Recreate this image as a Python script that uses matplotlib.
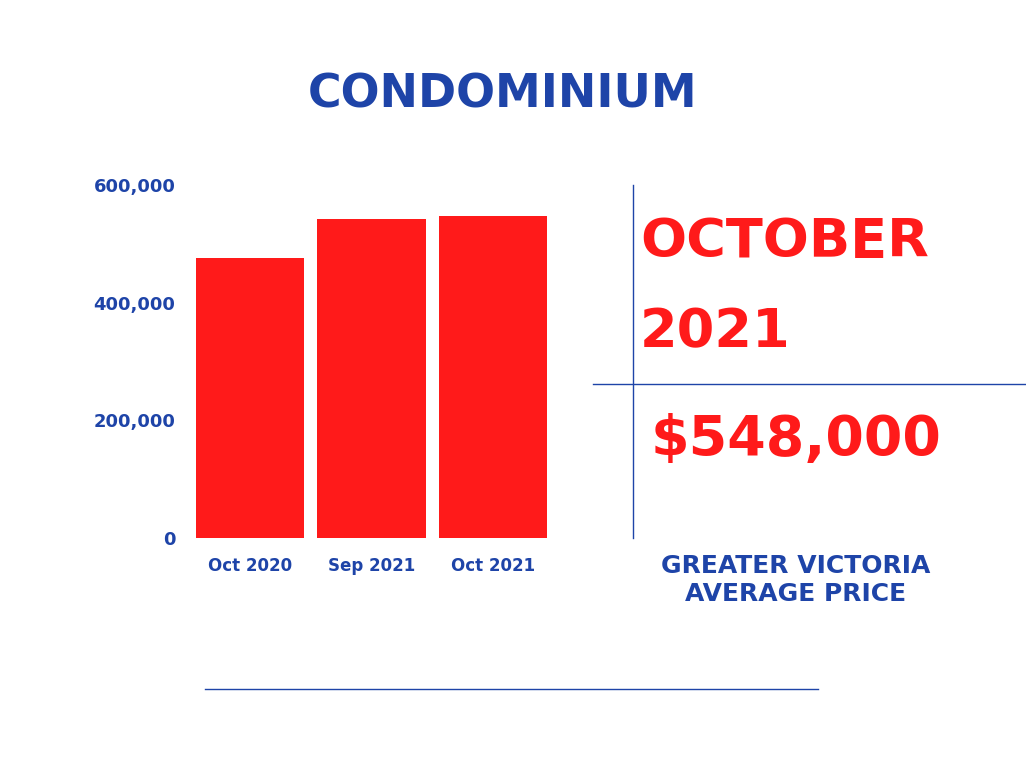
import matplotlib
matplotlib.use("Agg")
import matplotlib.pyplot as plt
from matplotlib.patches import FancyBboxPatch

plt.rcParams['font.family'] = ['DejaVu Sans']

categories = ["Oct 2020", "Sep 2021", "Oct 2021"]
values = [476000, 542000, 548000]
yticks = [0, 200000, 400000, 600000]
ytick_labels = ["0", "200,000", "400,000", "600,000"]

BLUE = "#1e44a8"
RED = "#ff1a1a"

fig = plt.figure(figsize=(10.26, 7.68), dpi=100)
ax = fig.add_axes([195/1026, 1-538/768, 353/1026, 353/768])
bars = ax.bar(range(len(values)), values, width=0.89, color=RED, zorder=2)
ax.set_xlim(-0.45, 2.45)
ax.set_ylim(0, 600000)
ax.set_yticks(yticks)
ax.set_yticklabels(ytick_labels)
ax.set_xticks(range(len(categories)))
ax.set_xticklabels(categories)
ax.tick_params(axis="x", length=0, labelsize=12, labelcolor=BLUE, pad=14)
ax.tick_params(axis="y", length=0, labelsize=13, labelcolor=BLUE, pad=14)
for lab in ax.get_xticklabels() + ax.get_yticklabels():
    lab.set_fontweight("bold")
for s in ax.spines.values():
    s.set_visible(False)

fig.text(0.49, 1-95/768, "CONDOMINIUM", color=BLUE, fontsize=33, fontweight="bold",
         ha="center", va="center")
fig.text(640/1026, 1-242/768, "OCTOBER", color=RED, fontsize=39, fontweight="bold",
         ha="left", va="center")
fig.text(640/1026, 1-332/768, "2021", color=RED, fontsize=39, fontweight="bold",
         ha="left", va="center")
fig.text(796/1026, 1-440/768, "$548,000", color=RED, fontsize=40, fontweight="bold",
         ha="center", va="center")
fig.text(796/1026, 1-580/768, "GREATER VICTORIA\nAVERAGE PRICE", color=BLUE, fontsize=18,
         fontweight="bold", ha="center", va="center", linespacing=1.2)

fig.add_artist(plt.Line2D([633/1026]*2, [1-185/768, 1-538/768], color=BLUE, lw=1))
fig.add_artist(plt.Line2D([593/1026, 1], [1-384/768]*2, color=BLUE, lw=1))
fig.add_artist(plt.Line2D([205/1026, 818/1026], [1-689/768]*2, color=BLUE, lw=1))

fig.savefig("out.png", dpi=100)
